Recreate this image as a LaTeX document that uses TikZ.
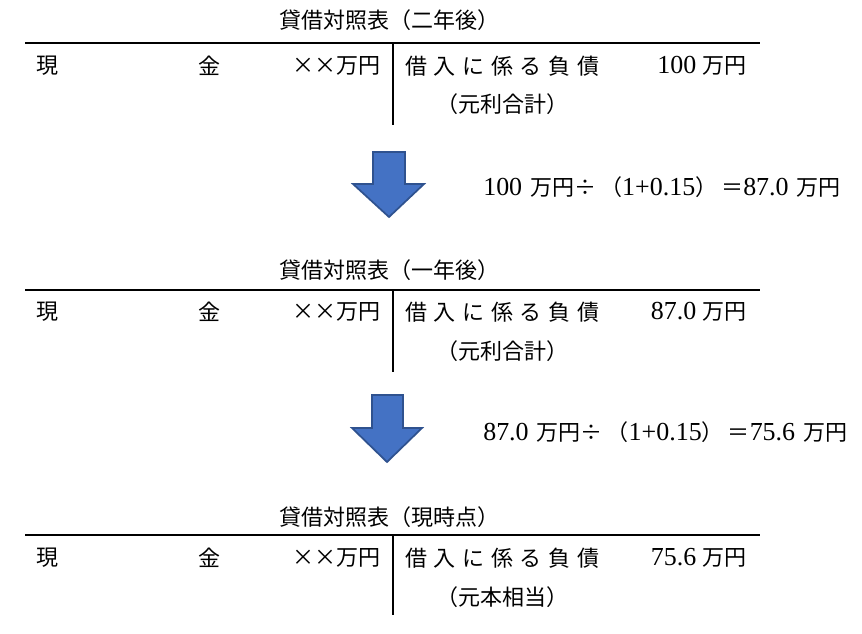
\documentclass[tikz,border=0pt]{standalone}
\usepackage{fontspec}
\setmainfont{Liberation Serif}[Scale=1.18]
\newfontfamily\cjk{Noto Sans CJK JP}
\definecolor{arrowblue}{HTML}{4472C4}
\definecolor{arrowedge}{HTML}{2F528F}
\newcommand{\debtname}{{\cjk 借\kern5pt 入\kern5pt に\kern5pt 係\kern5pt る\kern5pt 負\kern5pt 債}}

\begin{document}
\begin{tikzpicture}[x=0.75pt, y=-0.75pt,
    every node/.style={font=\fontsize{16.5}{20}\selectfont, inner sep=0pt},
    rule/.style={line width=0.8pt},
    blockarrow/.style={fill=arrowblue, draw=arrowedge, line width=1.3pt, line join=miter}]
    \useasboundingbox (0,0) rectangle (862,633);

    % two years later
    \node (t1title) at (389,20) {\cjk 貸借対照表（二年後）};
    \draw[rule] (25,43) -- (760,43);
    \draw[rule] (393,43) -- (393,125);
    \node (t1cash) at (47,66) {\cjk 現};
    \node (t1kin) at (209,66) {\cjk 金};
    \node[anchor=east] (t1asset) at (381,66) {\cjk ××万円};
    \node[anchor=west] (t1debt) at (405,66) {\debtname};
    \node[anchor=east] (t1amount) at (747,66) {100 {\cjk 万円}};
    \node (t1note) at (502,104) {\cjk （元利合計）};

    \draw[blockarrow] (373,152) -- (405,152) -- (405,184) -- (424,184) -- (389,217)
        -- (353,184) -- (373,184) -- cycle;
    \node[anchor=west] (calc1) at (483,187)
        {100\kern6pt{\cjk 万円÷\kern3pt（}1+0.15{\cjk ）\kern3pt＝}87.0\kern6pt{\cjk 万円}};

    % one year later
    \node (t2title) at (389,270) {\cjk 貸借対照表（一年後）};
    \draw[rule] (25,290) -- (760,290);
    \draw[rule] (393,290) -- (393,372);
    \node (t2cash) at (47,312) {\cjk 現};
    \node (t2kin) at (209,312) {\cjk 金};
    \node[anchor=east] (t2asset) at (381,312) {\cjk ××万円};
    \node[anchor=west] (t2debt) at (405,312) {\debtname};
    \node[anchor=east] (t2amount) at (747,312) {87.0 {\cjk 万円}};
    \node (t2note) at (502,351) {\cjk （元利合計）};

    \draw[blockarrow] (372,395) -- (403,395) -- (403,428) -- (422,428) -- (387,462)
        -- (352,428) -- (372,428) -- cycle;
    \node[anchor=west] (calc2) at (483,432)
        {87.0\kern6pt{\cjk 万円÷\kern3pt（}1+0.15{\cjk ）\kern3pt＝}75.6\kern6pt{\cjk 万円}};

    % present
    \node (t3title) at (389,517) {\cjk 貸借対照表（現時点）};
    \draw[rule] (25,535) -- (760,535);
    \draw[rule] (393,535) -- (393,615);
    \node (t3cash) at (47,558) {\cjk 現};
    \node (t3kin) at (209,558) {\cjk 金};
    \node[anchor=east] (t3asset) at (381,558) {\cjk ××万円};
    \node[anchor=west] (t3debt) at (405,558) {\debtname};
    \node[anchor=east] (t3amount) at (747,558) {75.6 {\cjk 万円}};
    \node (t3note) at (502,597) {\cjk （元本相当）};
\end{tikzpicture}
\end{document}
